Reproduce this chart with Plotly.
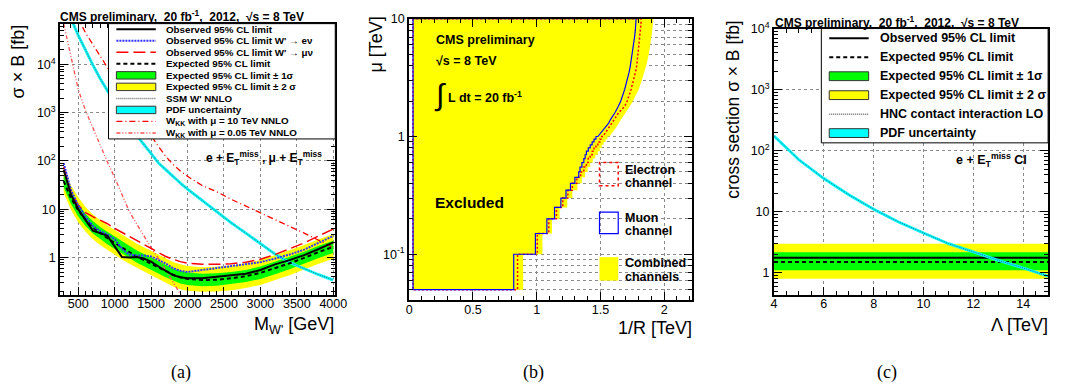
import plotly.graph_objects as go

W, H = 1067, 392
def px(x): return x / W
def py(y): return 1 - y / H

# ---------------- Panel (a): W' -> l nu limits ----------------
mw = [300, 400, 500, 600, 700, 800, 900, 1000, 1100, 1200, 1300, 1400, 1500, 1600,
      1700, 1800, 1900, 2000, 2200, 2400, 2600, 2800, 3000, 3200, 3400, 3600, 3800, 4000]
exp_lim = [38, 17, 9.5, 6.0, 4.2, 3.2, 2.5, 2.0, 1.6, 1.3, 1.05, 0.88, 0.74, 0.62,
           0.52, 0.44, 0.39, 0.36, 0.34, 0.345, 0.37, 0.41, 0.48, 0.60, 0.76, 0.98, 1.3, 1.65]
exp_1s_up = [51, 23, 12.8, 8.1, 5.7, 4.3, 3.4, 2.7, 2.16, 1.75, 1.42, 1.19, 1.0, 0.84,
             0.70, 0.59, 0.53, 0.49, 0.46, 0.47, 0.5, 0.55, 0.65, 0.81, 1.03, 1.32, 1.75, 2.23]
exp_1s_dn = [28.5, 12.8, 7.1, 4.5, 3.15, 2.4, 1.88, 1.5, 1.2, 0.98, 0.79, 0.66, 0.555, 0.465,
             0.39, 0.33, 0.29, 0.27, 0.255, 0.26, 0.28, 0.31, 0.36, 0.45, 0.57, 0.74, 0.98, 1.24]
exp_2s_up = [70, 31, 17.6, 11.1, 7.8, 5.9, 4.6, 3.7, 2.96, 2.4, 1.94, 1.63, 1.37, 1.15,
             0.96, 0.81, 0.72, 0.67, 0.63, 0.64, 0.68, 0.76, 0.89, 1.11, 1.41, 1.81, 2.4, 3.05]
exp_2s_dn = [21.7, 9.7, 5.4, 3.4, 2.4, 1.82, 1.43, 1.14, 0.91, 0.74, 0.6, 0.5, 0.42, 0.35,
             0.3, 0.25, 0.22, 0.205, 0.194, 0.197, 0.21, 0.234, 0.27, 0.34, 0.43, 0.56, 0.74, 0.94]
obs_lim = [65, 20, 10, 6.0, 3.6, 3.2, 2.8, 1.7, 1.02, 1.0, 1.02, 0.95, 0.82, 0.65,
           0.52, 0.43, 0.39, 0.37, 0.37, 0.40, 0.42, 0.46, 0.55, 0.72, 0.88, 1.12, 1.5, 2.05]
obs_e = [90, 25, 12, 7, 4.5, 3.5, 3.0, 2.4, 1.5, 1.15, 1.1, 1.1, 1.05, 0.9,
         0.75, 0.6, 0.53, 0.5, 0.55, 0.6, 0.66, 0.72, 0.8, 0.95, 1.15, 1.45, 2.0, 2.8]
obs_mu = [75, 22, 12, 8.5, 7.0, 6.0, 5.0, 4.0, 3.3, 2.7, 2.2, 1.8, 1.5, 1.25,
          1.05, 0.92, 0.82, 0.76, 0.72, 0.72, 0.74, 0.8, 0.92, 1.15, 1.5, 2.0, 2.8, 3.9]
ssm_nnlo = [2.2e5, 8.9e4, 4.0e4, 1.9e4, 9800, 5100, 2800, 1600, 910, 540, 340, 220, 140, 91,
            66, 47, 35, 26, 15, 8.9, 5.2, 3.2, 1.9, 1.17, 0.79, 0.58, 0.44, 0.34]
wkk_mu10 = [6e5, 2.5e5, 9e4, 4.5e4, 2.6e4, 1.5e4, 9000, 5000, 2800, 1600, 950, 560, 330, 200,
            125, 85, 62, 48, 31, 23, 16, 11.5, 8.3, 6.0, 4.4, 3.2, 2.3, 1.6]
m_wkk005 = [300, 400, 500, 600, 700, 800, 900, 1000, 1100, 1200, 1300, 1400, 1500, 1600,
            1700, 1800, 1900, 2000]
wkk_mu005 = [7e4, 1.4e4, 3000, 1100, 480, 220, 95, 45, 20, 9, 5.0, 2.8, 1.6, 0.95,
             0.55, 0.32, 0.18, 0.1]

# ---------------- Panel (b): split-UED exclusion ----------------
invR_min = 0.03
mu_grid = [0.05, 0.1, 0.15, 0.2, 0.25, 0.3, 0.35, 0.4, 0.45, 0.5, 0.55, 0.6, 0.65, 0.7, 0.75,
           0.8, 0.85, 0.9, 0.95, 1.0, 1.1, 1.2, 1.3, 1.4, 1.5, 1.6, 1.8, 2.0, 2.5, 3.0, 3.5,
           4.0, 5.0, 6.0, 7.0, 8.0, 9.0, 10.0]
lim_muon = [0.82, 0.99, 1.08, 1.14, 1.19, 1.23, 1.265, 1.30, 1.33, 1.34, 1.355, 1.37, 1.38,
            1.39, 1.405, 1.42, 1.435, 1.45, 1.465, 1.48, 1.51, 1.54, 1.565, 1.58, 1.60, 1.615,
            1.64, 1.66, 1.69, 1.71, 1.725, 1.735, 1.75, 1.76, 1.768, 1.774, 1.778, 1.78]
lim_elec = [0.85, 1.005, 1.095, 1.155, 1.205, 1.245, 1.28, 1.315, 1.345, 1.37, 1.39, 1.405,
            1.42, 1.435, 1.45, 1.465, 1.48, 1.495, 1.51, 1.52, 1.545, 1.57, 1.59, 1.61, 1.63,
            1.645, 1.69, 1.71, 1.74, 1.76, 1.775, 1.785, 1.795, 1.805, 1.81, 1.815, 1.818, 1.82]
lim_comb = [0.894, 1.045, 1.12, 1.18, 1.24, 1.28, 1.32, 1.354, 1.38, 1.40, 1.42, 1.44, 1.46,
            1.48, 1.495, 1.51, 1.525, 1.54, 1.555, 1.57, 1.60, 1.625, 1.645, 1.665, 1.685,
            1.70, 1.73, 1.755, 1.80, 1.825, 1.845, 1.86, 1.88, 1.893, 1.90, 1.907, 1.912, 1.915]

# ---------------- Panel (c): contact interaction ----------------
lam = [4, 5, 6, 7, 8, 9, 10, 11, 12, 13, 14, 15]
ci_xsec = [174, 71, 35, 19, 11, 6.8, 4.5, 3.0, 2.2, 1.6, 1.2, 0.88]
lam_range = [4, 15]
ci_obs = 1.76
ci_exp = 1.5
ci_1s = [1.1, 2.17]
ci_2s = [0.8, 3.0]

RED = '#ff0000'
GREEN = '#00ff00'
YELLOW = '#ffff00'
CYAN = '#00ffff'
FONT = 'Liberation Sans'

fig = go.Figure()

def band(x, up, dn, color, xa, ya):
    fig.add_trace(go.Scatter(x=list(x) + list(x)[::-1], y=list(up) + list(dn)[::-1],
                             fill='toself', fillcolor=color, mode='lines',
                             line=dict(width=0, color=color), xaxis=xa, yaxis=ya,
                             hoverinfo='skip', showlegend=False))

def line(x, y, color, width, dash, xa, ya):
    fig.add_trace(go.Scatter(x=x, y=y, mode='lines', xaxis=xa, yaxis=ya,
                             line=dict(color=color, width=width, dash=dash),
                             hoverinfo='skip', showlegend=False))

# Panel (a)
band(mw, exp_2s_up, exp_2s_dn, YELLOW, 'x', 'y')
band(mw, exp_1s_up, exp_1s_dn, GREEN, 'x', 'y')
line(mw, ssm_nnlo, CYAN, 2.8, 'solid', 'x', 'y')
line(mw, ssm_nnlo, '#4a6a6a', 1, '1px,1px', 'x', 'y')
line(mw, wkk_mu10, RED, 1.3, '6px,3px,1px,3px', 'x', 'y')
line(m_wkk005, wkk_mu005, '#ff5050', 1.3, '4px,2px,1px,2px,1px,2px', 'x', 'y')
line(mw, exp_lim, 'black', 2, '4px,3px', 'x', 'y')
line(mw, obs_mu, RED, 1.5, '12px,5px', 'x', 'y')
line(mw, obs_e, '#3333ff', 2, '2px,1px', 'x', 'y')
line(mw, obs_lim, 'black', 2, 'solid', 'x', 'y')

# Panel (b): exclusion contours, stepped at low mu (coarse scan), smooth above
MU_STEP_MAX = 1.0
def contour(lims):
    xs = [invR_min, invR_min]
    ys = [mu_grid[-1], mu_grid[0]]
    n = len(mu_grid)
    for i in range(n):
        xs.append(lims[i]); ys.append(mu_grid[i])
        if i + 1 < n and mu_grid[i + 1] <= MU_STEP_MAX:
            xs.append(lims[i]); ys.append(mu_grid[i + 1])
    xs.append(invR_min); ys.append(mu_grid[-1])
    return xs, ys

xc, yc = contour(lim_comb)
fig.add_trace(go.Scatter(x=xc, y=yc, fill='toself', fillcolor=YELLOW, mode='lines',
                         line=dict(width=0, color=YELLOW), xaxis='x2', yaxis='y2',
                         hoverinfo='skip', showlegend=False))
xe, ye = contour(lim_elec)
line(xe, ye, RED, 1.5, '2px,2px', 'x2', 'y2')
xm, ym = contour(lim_muon)
line(xm, ym, '#0000ff', 1.2, 'solid', 'x2', 'y2')

# Panel (c)
band(lam_range, [ci_2s[1]] * 2, [ci_2s[0]] * 2, YELLOW, 'x3', 'y3')
band(lam_range, [ci_1s[1]] * 2, [ci_1s[0]] * 2, GREEN, 'x3', 'y3')
line(lam_range, [ci_exp] * 2, 'black', 2, '4px,3px', 'x3', 'y3')
line(lam_range, [ci_obs] * 2, 'black', 2, 'solid', 'x3', 'y3')
line(lam, ci_xsec, CYAN, 2.8, 'solid', 'x3', 'y3')
line(lam, ci_xsec, '#2a6a8a', 1, '1px,1px', 'x3', 'y3')

# ---------------- Axes ----------------
common = dict(showline=True, linecolor='black', linewidth=2, mirror='allticks',
              ticks='inside', tickcolor='black', tickwidth=1, ticklen=8, zeroline=False,
              showgrid=True, gridcolor='#8a8a8a', griddash='dot', gridwidth=1,
              tickfont=dict(family=FONT, size=12.5, color='black'))

def logminor(lo, hi):
    vals = []
    e = lo
    while e < hi:
        for d in range(2, 10):
            vals.append(d * 10 ** e)
        e += 1
    return vals

minor_log = dict(ticks='inside', ticklen=4, tickcolor='black', tickmode='array',
                 showgrid=False)

layout = dict(
    width=W, height=H, margin=dict(l=0, r=0, t=0, b=0),
    paper_bgcolor='white', plot_bgcolor='white', showlegend=False,
    xaxis=dict(domain=[px(58), px(337)], range=[252, 4027], anchor='y',
               tickvals=[500, 1000, 1500, 2000, 2500, 3000, 3500, 4000],
               ticklabelstandoff=-4,
               minor=dict(ticks='inside', ticklen=4, tickcolor='black', dtick=100, tick0=0,
                          showgrid=False), **common),
    yaxis=dict(domain=[py(293), py(15)], type='log', range=[-0.783, 4.844], anchor='x',
               tickvals=[1, 10, 100, 1000, 10000],
               ticktext=['1', '10', '10<sup>2</sup>', '10<sup>3</sup>', '10<sup>4</sup>'],
               minor=dict(tickvals=logminor(-1, 5), **minor_log), **common),
    xaxis2=dict(domain=[px(412), px(699)], range=[0, 2.22], anchor='y2',
                tickvals=[0, 0.5, 1, 1.5, 2], ticktext=['0', '0.5', '1', '1.5', '2'],
                ticklabelstandoff=-3,
                minor=dict(ticks='inside', ticklen=4, tickcolor='black', dtick=0.1, tick0=0,
                           showgrid=False), **common),
    yaxis2=dict(domain=[py(298), py(10)], type='log', range=[-1.39, 1.0], anchor='x2',
                tickvals=[0.1, 1, 10], ticktext=['10<sup>-1</sup>', '1', '10'],
                minor=dict(ticks='inside', ticklen=4, tickcolor='black', tickmode='array',
                           tickvals=logminor(-2, 1), showgrid=True, gridcolor='#8a8a8a',
                           griddash='dot', gridwidth=1), **common),
    xaxis3=dict(domain=[px(782), px(1060)], range=[4, 15], anchor='y3',
                tickvals=[4, 6, 8, 10, 12, 14],
                ticklabelstandoff=-4,
                minor=dict(ticks='inside', ticklen=4, tickcolor='black', dtick=0.5, tick0=0,
                           showgrid=False), **common),
    yaxis3=dict(domain=[py(293), py(20)], type='log', range=[-0.368, 4.0], anchor='x3',
                tickvals=[1, 10, 100, 1000, 10000],
                ticktext=['1', '10', '10<sup>2</sup>', '10<sup>3</sup>', '10<sup>4</sup>'],
                minor=dict(tickvals=logminor(-1, 4), **minor_log), **common),
)

# ---------------- Legends / text ----------------
shapes = []
annotations = []

def rect(x0, y0, x1, y1, fill=None, color='black', width=1, dash='solid'):
    shapes.append(dict(type='rect', xref='paper', yref='paper', x0=px(x0), x1=px(x1),
                       y0=py(y1), y1=py(y0),
                       fillcolor=fill if fill else 'rgba(0,0,0,0)',
                       line=dict(color=color, width=width, dash=dash), layer='above'))

def seg(x0, x1, y, color, width, dash):
    shapes.append(dict(type='line', xref='paper', yref='paper', x0=px(x0), x1=px(x1),
                       y0=py(y), y1=py(y), line=dict(color=color, width=width, dash=dash),
                       layer='above'))

def text(x, y, s, size, xanchor='left', yanchor='middle', bold=True, family=FONT, angle=0):
    annotations.append(dict(xref='paper', yref='paper', x=px(x), y=py(y),
                            text=('<b>' + s + '</b>') if bold else s, showarrow=False,
                            xanchor=xanchor, yanchor=yanchor, textangle=angle, borderpad=0,
                            font=dict(family=family, size=size, color='black')))

NB = '\u00a0'
title = 'CMS preliminary,' + NB * 2 + '20 fb<sup>-1</sup>,' + NB * 2 + '2012,' + NB * 2 + '√s = 8 TeV'

# Legend (a)
rect(107, 15, 337, 133, fill='white', width=1)
la = [
    ('Observed 95% CL limit', 'line', ('black', 2, 'solid')),
    ("Observed 95% CL limit W' → eν", 'line', ('#3333ff', 2, '2px,1px')),
    ("Observed 95% CL limit W' → μν", 'line', (RED, 1.5, '12px,5px')),
    ('Expected 95% CL limit', 'line', ('black', 2, '4px,3px')),
    ('Expected 95% CL limit ± 1σ', 'box', GREEN),
    ('Expected 95% CL limit ± 2 σ', 'box', YELLOW),
    ("SSM W' NNLO", 'line', ('#6a6a6a', 1.5, '1px,1px')),
    ('PDF uncertainty', 'box', CYAN),
    ('W<sub>KK</sub> with μ = 10 TeV NNLO', 'line', (RED, 1.3, '6px,3px,1px,3px')),
    ('W<sub>KK</sub> with μ = 0.05 TeV NNLO', 'line', ('#ff5050', 1.3, '4px,2px,1px,2px,1px,2px')),
]
for i, (lab, kind, sty) in enumerate(la):
    yy = 20.7 + 11.8 * i
    if kind == 'line':
        seg(115, 155, yy, *sty)
    else:
        rect(115, yy - 3.8, 155, yy + 3.8, fill=sty, color='#333333', width=1)
    text(164, yy, lab, 9.8)

text(57, 7, title, 12)
text(325, 153, 'e + E<sub>T</sub><sup>miss</sup> , μ + E<sub>T</sub><sup>miss</sup>', 12,
     xanchor='right')
text(15, 15, 'σ × B [fb]', 18, xanchor='center', yanchor='top', bold=False, angle=-90)
text(337, 324, "M<sub>W'</sub> [GeV]", 18, xanchor='right', bold=False)
text(181, 372, '(a)', 18, xanchor='center', bold=False, family='Liberation Serif')

# Panel (b) text and legend
text(438, 32, 'CMS preliminary', 12.5)
text(438, 53, '√s = 8 TeV', 12.5)
text(436, 88, '∫', 30, bold=False)
text(450, 90, 'L dt = 20 fb<sup>-1</sup>', 12.5)
text(437, 198, 'Excluded', 15.5)
rect(605, 157, 624, 181, color=RED, width=1.5, dash='dot')
text(630, 165, 'Electron', 12.5)
text(630, 178, 'channel', 12.5)
rect(605, 208, 624, 230, color='#0000ff', width=1.2)
text(630, 214, 'Muon', 12.5)
text(630, 227, 'channel', 12.5)
rect(605, 254, 624, 278, fill=YELLOW, color=YELLOW, width=0)
text(630, 260, 'Combined', 12.5)
text(630, 274, 'channels', 12.5)
text(378, 7, 'μ [TeV]', 18, xanchor='center', yanchor='top', bold=False, angle=-90)
text(700, 326, '1/R [TeV]', 18, xanchor='right', bold=False)
text(538, 372, '(b)', 18, xanchor='center', bold=False, family='Liberation Serif')

# Panel (c) legend
rect(830, 20, 1060, 137, fill='white', width=1)
lc = [
    ('Observed 95% CL limit', 'line', ('black', 2, 'solid')),
    ('Expected 95% CL limit', 'line', ('black', 2, '4px,3px')),
    ('Expected 95% CL limit ± 1σ', 'box', GREEN),
    ('Expected 95% CL limit ± 2 σ', 'box', YELLOW),
    ('HNC contact interaction LO', 'line', ('#6a6a6a', 1.5, '1px,1px')),
    ('PDF uncertainty', 'box', CYAN),
]
for i, (lab, kind, sty) in enumerate(lc):
    yy = 30 + 19.4 * i
    if kind == 'line':
        seg(838, 878, yy, *sty)
    else:
        rect(838, yy - 4.5, 878, yy + 4.5, fill=sty, color='#333333', width=1)
    text(888, yy, lab, 12.5)

text(782, 13, title, 12)
text(1040, 155, 'e + E<sub>T</sub><sup>miss</sup> CI', 12.5, xanchor='right')
text(741, 10, 'cross section σ × B [fb]', 17.5, xanchor='center', yanchor='top', bold=False,
     angle=-90)
text(1061, 323, 'Λ [TeV]', 18, xanchor='right', bold=False)
text(897, 372, '(c)', 18, xanchor='center', bold=False, family='Liberation Serif')

layout['shapes'] = shapes
layout['annotations'] = annotations
fig.update_layout(**layout)
fig.write_html('out.html')
